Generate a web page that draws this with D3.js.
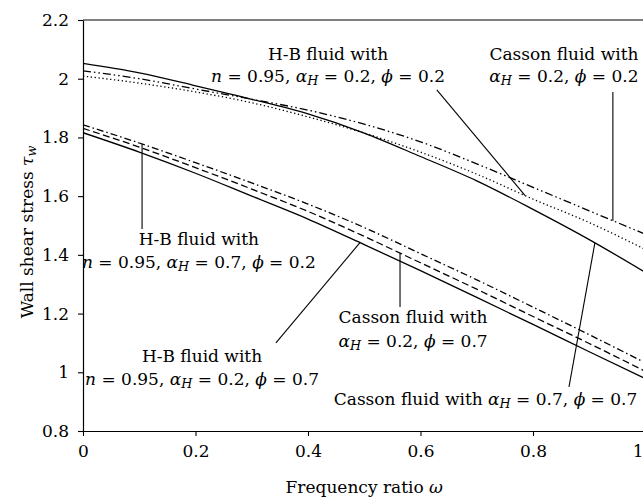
<!DOCTYPE html>
<html>
<head>
<meta charset="utf-8">
<script src="https://cdn.jsdelivr.net/npm/d3@7"></script>
<style>
  html, body { margin: 0; padding: 0; background: #fff; }
  svg { display: block; }
  text { font-family: "DejaVu Serif", "Liberation Serif", serif; fill: #000; }
</style>
</head>
<body>
<svg id="chart" width="643" height="502"></svg>
<script>
// ---- data ----
const omega = [0, 0.1, 0.2, 0.3, 0.4, 0.5, 0.6, 0.7, 0.8, 0.9, 1.0];
// upper group
const seriesS1 = [2.052, 2.020, 1.976, 1.930, 1.880, 1.815, 1.735, 1.652, 1.555, 1.452, 1.340]; // solid
const seriesS2 = [2.027, 2.000, 1.965, 1.930, 1.893, 1.845, 1.785, 1.710, 1.630, 1.550, 1.470]; // dash-dot-dot
const seriesS3 = [2.009, 1.985, 1.955, 1.918, 1.870, 1.815, 1.750, 1.675, 1.590, 1.510, 1.418]; // dotted
// lower group
const seriesB1 = [1.816, 1.750, 1.678, 1.600, 1.522, 1.435, 1.346, 1.255, 1.163, 1.070, 0.978]; // solid
const seriesB2 = [1.831, 1.767, 1.697, 1.624, 1.548, 1.463, 1.373, 1.283, 1.190, 1.098, 1.003]; // dashed
const seriesB3 = [1.843, 1.781, 1.714, 1.645, 1.573, 1.493, 1.404, 1.315, 1.222, 1.128, 1.032]; // dash-dot

const xTicks = [0, 0.2, 0.4, 0.6, 0.8, 1];
const yTicks = [0.8, 1, 1.2, 1.4, 1.6, 1.8, 2, 2.2];

// ---- layout ----
const svg = d3.select("#chart");
const M = { left: 83, top: 20, right: 645.5, bottom: 431 };
const x = d3.scaleLinear().domain([0, 1]).range([M.left, M.right]);
const y = d3.scaleLinear().domain([0.8, 2.2]).range([M.bottom, M.top]);
const FS = 17;

const styles = {
  S1: null,
  S2: "8,3,1.5,3,1.5,3",
  S3: "1.3,2.6",
  B1: null,
  B2: "7,3.5",
  B3: "7,3,1.5,3"
};
const seriesMap = { S1: seriesS1, S2: seriesS2, S3: seriesS3, B1: seriesB1, B2: seriesB2, B3: seriesB3 };

// frame
svg.append("line").attr("x1", M.left).attr("x2", M.right).attr("y1", M.top).attr("y2", M.top)
  .attr("stroke", "#000").attr("stroke-width", 1.2);
svg.append("line").attr("x1", M.right).attr("x2", M.right).attr("y1", M.top).attr("y2", M.bottom)
  .attr("stroke", "#000").attr("stroke-width", 1.2);

// axes
const fmt = d => String(+d.toFixed(1));
const gx = svg.append("g").attr("transform", `translate(0,${M.bottom})`)
  .call(d3.axisBottom(x).tickValues(xTicks).tickSize(5).tickSizeOuter(0).tickPadding(9).tickFormat(fmt));
const gy = svg.append("g").attr("transform", `translate(${M.left},0)`)
  .call(d3.axisLeft(y).tickValues(yTicks).tickSize(5).tickSizeOuter(0).tickPadding(9).tickFormat(fmt));
[gx, gy].forEach(g => {
  g.selectAll("path.domain").attr("stroke", "#000").attr("stroke-width", 1.2);
  g.selectAll(".tick line").attr("stroke", "#000").attr("stroke-width", 1.1);
  g.selectAll(".tick text").style("font-family", '"DejaVu Serif", serif').style("font-size", FS + "px").attr("fill", "#000");
});
// keep the last x tick label inside the window (its tick sits just past the right edge)
gx.selectAll(".tick text").filter(d => d === 1)
  .attr("text-anchor", "end").attr("x", 643 - M.right);

// curves
const line = d3.line().x((d, i) => x(omega[i])).y(d => y(d)).curve(d3.curveMonotoneX);
svg.append("clipPath").attr("id", "clip").append("rect")
  .attr("x", M.left).attr("y", M.top).attr("width", M.right - M.left).attr("height", M.bottom - M.top);
const gc = svg.append("g").attr("clip-path", "url(#clip)");
Object.keys(seriesMap).forEach(k => {
  gc.append("path").attr("d", line(seriesMap[k])).attr("fill", "none")
    .attr("stroke", "#000").attr("stroke-width", 1.3)
    .attr("stroke-dasharray", styles[k]);
});

// helper: rich text
function rich(sel, segs) {
  segs.forEach(s => {
    const t = sel.append("tspan").text(s.t);
    if (s.it) t.style("font-style", "italic");
    if (s.sub) t.attr("baseline-shift", "-25%").style("font-size", (FS * 0.75) + "px");
  });
}
function interp(arr, w) {
  return d3.scaleLinear().domain(omega).range(arr)(w);
}

const annotations = [
  { lines: [[{ t: "H-B fluid with" }],
            [{ t: "n", it: 1 }, { t: " = 0.95, " }, { t: "α", it: 1 }, { t: "H", it: 1, sub: 1 }, { t: " = 0.2, " }, { t: "ϕ", it: 1 }, { t: " = 0.2" }]],
    cx: 0.4356, base: [2.064, 1.989], from: [0.629, 1.962], to: "S3", at: 0.786 },
  { lines: [[{ t: "Casson fluid with" }],
            [{ t: "α", it: 1 }, { t: "H", it: 1, sub: 1 }, { t: " = 0.2, " }, { t: "ϕ", it: 1 }, { t: " = 0.2" }]],
    cx: 0.855, base: [2.064, 1.989], from: [0.942, 1.955], to: "S2", at: 0.942 },
  { lines: [[{ t: "H-B fluid with" }],
            [{ t: "n", it: 1 }, { t: " = 0.95, " }, { t: "α", it: 1 }, { t: "H", it: 1, sub: 1 }, { t: " = 0.7, " }, { t: "ϕ", it: 1 }, { t: " = 0.2" }]],
    cx: 0.206, base: [1.4336, 1.355], from: [0.105, 1.488], to: "B3", at: 0.105 },
  { lines: [[{ t: "H-B fluid with" }],
            [{ t: "n", it: 1 }, { t: " = 0.95, " }, { t: "α", it: 1 }, { t: "H", it: 1, sub: 1 }, { t: " = 0.2, " }, { t: "ϕ", it: 1 }, { t: " = 0.7" }]],
    cx: 0.2116, base: [1.035, 0.957], from: [0.343, 1.100], to: "B1", at: 0.4924 },
  { lines: [[{ t: "Casson fluid with" }],
            [{ t: "α", it: 1 }, { t: "H", it: 1, sub: 1 }, { t: " = 0.2, " }, { t: "ϕ", it: 1 }, { t: " = 0.7" }]],
    cx: 0.5867, base: [1.168, 1.086], from: [0.5636, 1.222], to: "B2", at: 0.5636 },
  { lines: [[{ t: "Casson fluid with " }, { t: "α", it: 1 }, { t: "H", it: 1, sub: 1 }, { t: " = 0.7, " }, { t: "ϕ", it: 1 }, { t: " = 0.7" }]],
    cx: 0.7156, base: [0.8886], from: [0.864, 0.950], to: "S1", at: 0.91 }
];

annotations.forEach(a => {
  a.lines.forEach((ln, i) => {
    const t = svg.append("text").attr("x", x(a.cx)).attr("y", y(a.base[i]))
      .attr("text-anchor", "middle").style("font-size", FS + "px");
    rich(t, ln);
  });
  svg.append("line")
    .attr("x1", x(a.from[0])).attr("y1", y(a.from[1]))
    .attr("x2", x(a.at)).attr("y2", y(interp(seriesMap[a.to], a.at)))
    .attr("stroke", "#000").attr("stroke-width", 1.1);
});

// axis titles
const xt = svg.append("text").attr("x", (M.left + M.right) / 2).attr("y", 493)
  .attr("text-anchor", "middle").style("font-size", FS + "px");
rich(xt, [{ t: "Frequency ratio " }, { t: "ω", it: 1 }]);

const yt = svg.append("text").attr("transform", `translate(33,232) rotate(-90)`)
  .attr("text-anchor", "middle").style("font-size", FS + "px");
rich(yt, [{ t: "Wall shear stress " }, { t: "τ", it: 1 }, { t: "w", it: 1, sub: 1 }]);
</script>
</body>
</html>
